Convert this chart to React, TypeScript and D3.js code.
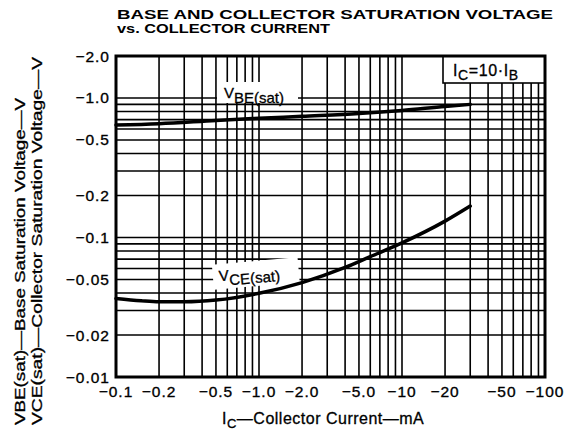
import * as d3 from "d3"

// tick values and their printed labels (the datasheet shows negative values)
const xTicks = [0.1, 0.2, 0.5, 1, 2, 5, 10, 20, 50, 100]
const xTickLabels = ["−0.1", "−0.2", "−0.5", "−1.0", "−2.0", "−5.0", "−10", "−20", "−50", "−100"]
const yTicks = [0.01, 0.02, 0.05, 0.1, 0.2, 0.5, 1, 2]
const yTickLabels = ["−0.01", "−0.02", "−0.05", "−0.1", "−0.2", "−0.5", "−1.0", "−2.0"]

// curves (|Ic| in mA, |V| in volts)
const vbeCurrent = [0.1, 0.2, 0.5, 1, 2, 5, 10, 20, 30]
const vbeVoltage = [0.64, 0.655, 0.69, 0.715, 0.74, 0.775, 0.815, 0.87, 0.9]
const vceCurrent = [0.1, 0.15, 0.2, 0.3, 0.5, 1, 2, 4, 6, 10, 20, 30]
const vceVoltage = [0.0366, 0.0352, 0.0346, 0.0346, 0.0356, 0.0398, 0.0475, 0.061, 0.073, 0.0915, 0.131, 0.168]

const W = 569
const H = 432
const plot = {left: 116, right: 545, top: 56, bottom: 377}
const font = "'Liberation Sans', Arial, sans-serif"

export default function App() {
  const x = d3.scaleLog().domain([0.1, 100]).range([plot.left, plot.right])
  const y = d3.scaleLog().domain([0.01, 2]).range([plot.bottom, plot.top])

  const line = d3
    .line<[number, number]>()
    .x((d) => x(d[0]))
    .y((d) => y(d[1]))
    .curve(d3.curveMonotoneX)

  const vbe = vbeCurrent.map((c, i) => [c, vbeVoltage[i]] as [number, number])
  const vce = vceCurrent.map((c, i) => [c, vceVoltage[i]] as [number, number])

  return (
    <svg
      width={W}
      height={H}
      style={{position: "absolute", left: 0, top: 0, background: "#fff"}}
      fontFamily={font}
    >
      {/* title */}
      <g fontSize={12} fontWeight="bold">
        <text x={117} y={19} textLength={436} lengthAdjust="spacingAndGlyphs">
          BASE AND COLLECTOR SATURATION VOLTAGE
        </text>
        <text x={117} y={33} textLength={213} lengthAdjust="spacingAndGlyphs">
          vs. COLLECTOR CURRENT
        </text>
      </g>

      {/* grid */}
      <g stroke="#000" strokeWidth={1.6}>
        {x.ticks().map((t) => (
          <line key={"x" + t} x1={x(t)} x2={x(t)} y1={plot.top} y2={plot.bottom} />
        ))}
        {y.ticks().map((t) => (
          <line key={"y" + t} x1={plot.left} x2={plot.right} y1={y(t)} y2={y(t)} />
        ))}
      </g>

      {/* curve labels sit on white patches over the grid */}
      <rect x={217} y={82} width={81} height={21} fill="#fff" />
      <text x={224} y={98} fontSize={15} stroke="#000" strokeWidth={0.3}>
        V<tspan dy={5}>BE(sat)</tspan>
      </text>

      <g transform="rotate(-5, 256, 276)">
        <rect x={213} y={261} width={86} height={25} fill="#fff" />
        <text x={219} y={278} fontSize={15} stroke="#000" strokeWidth={0.3}>
          V<tspan dy={5}>CE(sat)</tspan>
        </text>
      </g>

      {/* condition box */}
      <rect x={443} y={plot.top} width={plot.right - 443} height={27} fill="#fff" stroke="#000" strokeWidth={1.6} />
      <text x={453} y={76} fontSize={16} stroke="#000" strokeWidth={0.3} letterSpacing={0.6}>
        I<tspan dy={4} fontSize={14}>C</tspan>
        <tspan dy={-4}>=10·I</tspan>
        <tspan dy={4} fontSize={14}>B</tspan>
      </text>

      {/* curves */}
      <g fill="none" stroke="#000" strokeWidth={3.5} strokeLinecap="round">
        <path d={line(vbe) ?? ""} />
        <path d={line(vce) ?? ""} />
      </g>

      {/* frame */}
      <rect
        x={plot.left}
        y={plot.top}
        width={plot.right - plot.left}
        height={plot.bottom - plot.top}
        fill="none"
        stroke="#000"
        strokeWidth={3}
      />

      {/* tick labels */}
      <g fontSize={15.5} fill="#000" stroke="#000" strokeWidth={0.35} letterSpacing={1}>
        {xTicks.map((t, i) => (
          <text key={"xl" + t} x={x(t)} y={397} textAnchor="middle">
            {xTickLabels[i]}
          </text>
        ))}
        {yTicks.map((t, i) => (
          <text key={"yl" + t} x={110} y={y(t) + 5.5} textAnchor="end">
            {yTickLabels[i]}
          </text>
        ))}
      </g>

      {/* axis titles */}
      <text x={222} y={424} fontSize={16} stroke="#000" strokeWidth={0.3} letterSpacing={0.5}>
        I<tspan dy={4} fontSize={13}>C</tspan>
        <tspan dy={-4}>—Collector Current—mA</tspan>
      </text>
      <g fontSize={14} stroke="#000" strokeWidth={0.3}>
        <text transform="translate(25, 425) rotate(-90)" textLength={327} lengthAdjust="spacingAndGlyphs">
          VBE(sat)—Base Saturation Voltage—V
        </text>
        <text transform="translate(42, 425) rotate(-90)" textLength={368} lengthAdjust="spacingAndGlyphs">
          VCE(sat)—Collector Saturation Voltage—V
        </text>
      </g>
    </svg>
  )
}
